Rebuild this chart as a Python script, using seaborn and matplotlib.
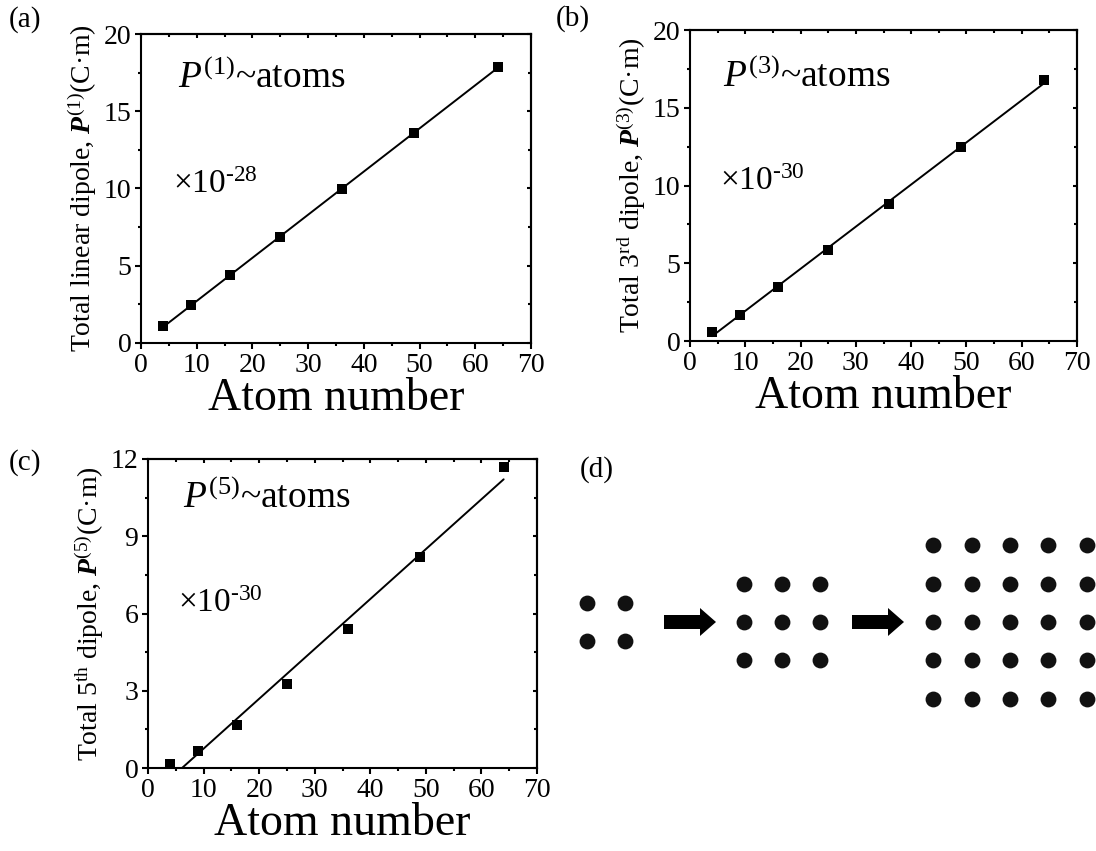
import numpy as np
import pandas as pd
import matplotlib
matplotlib.use("Agg")
import matplotlib.pyplot as plt
from matplotlib.ticker import MultipleLocator
from matplotlib.patches import FancyArrow
import seaborn as sns

# Total dipole moments versus number of atoms in the square lattice
atoms = [4, 9, 16, 25, 36, 49, 64]
p_linear = [1.08, 2.46, 4.37, 6.88, 9.95, 13.6, 17.84]   # x1e-28 C·m
p_third = [0.56, 1.69, 3.46, 5.84, 8.82, 12.45, 16.76]   # x1e-30 C·m
p_fifth = [0.16, 0.65, 1.68, 3.26, 5.39, 8.20, 11.68]    # x1e-30 C·m

# Side length of each square lattice in the schematic
lattice_sizes = [2, 3, 5]

sns.set_theme(style="ticks")
plt.rcParams.update({
    "font.family": ["Liberation Serif", "DejaVu Serif"],
    "mathtext.fontset": "custom",
    "mathtext.rm": "Liberation Serif",
    "mathtext.it": "Liberation Serif:italic",
    "mathtext.bf": "Liberation Serif:bold",
    "mathtext.bfit": "Liberation Serif:bold:italic",
    "axes.edgecolor": "black",
    "axes.linewidth": 1.5,
    "axes.labelcolor": "black",
    "text.color": "black",
    "xtick.color": "black",
    "ytick.color": "black",
})

W, H = 1096, 851
fig = plt.figure(figsize=(W / 100, H / 100), dpi=100)


def box(left, top, right, bottom):
    return [left / W, 1 - bottom / H, (right - left) / W, (bottom - top) / H]


def dipole_panel(rect, values, ymax, ystep, ylabel, law, scale, law_pos, scale_pos):
    ax = fig.add_axes(rect)
    slope, icpt = np.polyfit(atoms, values, 1)
    x0 = max(atoms[0], -icpt / slope)
    fit = pd.DataFrame({"atoms": [x0, atoms[-1]],
                        "P": [slope * x0 + icpt, slope * atoms[-1] + icpt]})
    pts = pd.DataFrame({"atoms": atoms, "P": values})
    sns.lineplot(data=fit, x="atoms", y="P", ax=ax, color="black", lw=1.4)
    sns.scatterplot(data=pts, x="atoms", y="P", ax=ax, marker="s", s=48,
                    color="black", linewidth=0, zorder=3)
    ax.set_xlim(0, 70)
    ax.set_ylim(0, ymax)
    ax.xaxis.set_major_locator(MultipleLocator(10))
    ax.xaxis.set_minor_locator(MultipleLocator(5))
    ax.yaxis.set_major_locator(MultipleLocator(ystep))
    ax.yaxis.set_minor_locator(MultipleLocator(ystep / 2))
    ax.tick_params(which="major", direction="out", length=4, width=1.5,
                   labelsize=20, pad=3)
    ax.tick_params(which="minor", direction="out", length=2.5, width=1.5)
    # inward ticks on the top and right frame
    top = ax.secondary_xaxis("top")
    top.xaxis.set_major_locator(MultipleLocator(10))
    top.xaxis.set_minor_locator(MultipleLocator(5))
    top.tick_params(which="major", direction="in", length=3, width=1.5, labeltop=False)
    top.tick_params(which="minor", direction="in", length=2, width=1.5)
    right = ax.secondary_yaxis("right")
    right.yaxis.set_major_locator(MultipleLocator(ystep))
    right.yaxis.set_minor_locator(MultipleLocator(ystep / 2))
    right.tick_params(which="major", direction="in", length=3, width=1.5, labelright=False)
    right.tick_params(which="minor", direction="in", length=2, width=1.5)
    ax.set_xlabel("Atom number", fontsize=33, labelpad=0)
    ax.set_ylabel(ylabel, fontsize=20, labelpad=3)
    ax.text(*law_pos, law, transform=ax.transAxes, fontsize=27, va="baseline")
    ax.text(*scale_pos, scale, transform=ax.transAxes, fontsize=24, va="baseline")
    return ax


dipole_panel(box(141, 34, 531, 343), p_linear, 20, 5,
             r"Total linear dipole, $\mathbfit{P}^{(1)}$(C·m)",
             r"$P^{(1)}$~atoms", r"×10$^{\text{-28}}$",
             (0.095, 0.825), (0.082, 0.485))
dipole_panel(box(690, 30, 1077, 341), p_third, 20, 5,
             r"Total 3$^{\mathrm{rd}}$ dipole, $\mathbfit{P}^{(3)}$(C·m)",
             r"$P^{(3)}$~atoms", r"×10$^{\text{-30}}$",
             (0.085, 0.817), (0.078, 0.486))
dipole_panel(box(148, 459, 537, 768), p_fifth, 12, 3,
             r"Total 5$^{\mathrm{th}}$ dipole, $\mathbfit{P}^{(5)}$(C·m)",
             r"$P^{(5)}$~atoms", r"×10$^{\text{-30}}$",
             (0.09, 0.841), (0.077, 0.505))

# Schematic of the growing square lattices, laid out in pixel units
axd = fig.add_axes(box(560, 440, W, 800))
axd.set_xlim(560, W)
axd.set_ylim(800, 440)
axd.axis("off")
centers_x = [606, 782, 1010]
center_y = 622
pitch = 38.3
dots = []
for n, cx in zip(lattice_sizes, centers_x):
    offs = (np.arange(n) - (n - 1) / 2) * pitch
    for dx in offs:
        for dy in offs:
            dots.append((cx + dx, center_y + dy))
dots = pd.DataFrame(dots, columns=["x", "y"])
sns.scatterplot(data=dots, x="x", y="y", ax=axd, s=130, color="#111111",
                linewidth=0, legend=False)
axd.set_xlabel("")
axd.set_ylabel("")
for x_start, x_end in [(664, 716), (852, 904)]:
    axd.add_patch(FancyArrow(x_start, center_y, x_end - x_start, 0, width=14,
                             head_width=28, head_length=16,
                             length_includes_head=True, color="black", lw=0))

for label, (px, py) in {"(a)": (25, 20), "(b)": (573, 19),
                        "(c)": (25, 463), "(d)": (597, 470)}.items():
    fig.text(px / W, 1 - py / H, label, fontsize=21, ha="center", va="center")

fig.savefig("out.png", dpi=100)
